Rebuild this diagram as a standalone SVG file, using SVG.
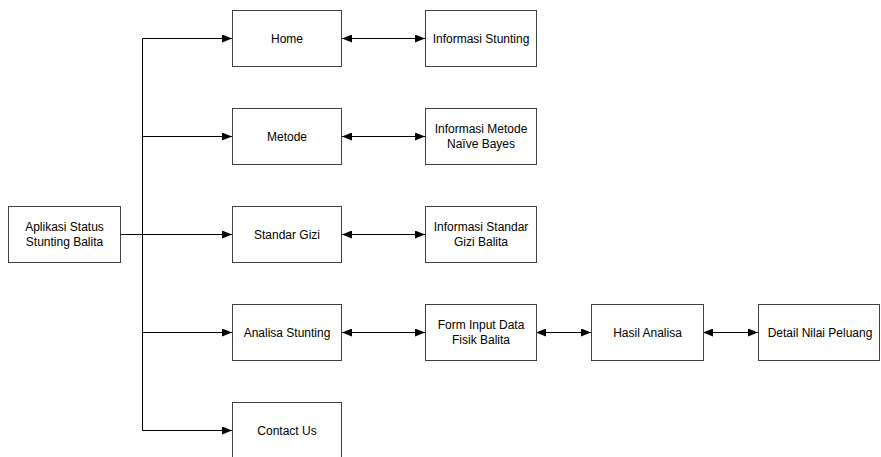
<svg xmlns="http://www.w3.org/2000/svg" width="881" height="457" viewBox="0 0 881 457">
  <style>
    .box { fill: #ffffff; stroke: #404040; stroke-width: 1; }
    .lbl { font-family: "Liberation Sans", Arial, sans-serif; font-size: 12px; fill: #000000; text-anchor: middle; }
    .wire { fill: none; stroke: #000000; stroke-width: 1; }
  </style>
  <defs>
    <marker id="tip" viewBox="0 0 10 8" refX="10" refY="4" markerWidth="10" markerHeight="8" markerUnits="userSpaceOnUse" orient="auto-start-reverse">
      <path d="M0,0 L10,4 L0,8 Z" fill="#000000"/>
    </marker>
  </defs>

  <g id="connectors">
    <!-- trunk and root link -->
    <path class="wire" d="M142.5,38.5 V430.5"/>
    <path class="wire" d="M120,234.5 H142.5" stroke-width="2"/>
    <!-- branches to menu items -->
    <path class="wire" d="M142.5,38.5 H232" marker-end="url(#tip)"/>
    <path class="wire" d="M142.5,136.5 H232" marker-end="url(#tip)"/>
    <path class="wire" d="M142.5,234.5 H232" marker-end="url(#tip)"/>
    <path class="wire" d="M142.5,332.5 H232" marker-end="url(#tip)"/>
    <path class="wire" d="M142.5,430.5 H232" marker-end="url(#tip)"/>
    <!-- two-way links -->
    <path class="wire" d="M342,38.5 H425" marker-start="url(#tip)" marker-end="url(#tip)"/>
    <path class="wire" d="M342,136.5 H425" marker-start="url(#tip)" marker-end="url(#tip)"/>
    <path class="wire" d="M342,234.5 H425" marker-start="url(#tip)" marker-end="url(#tip)"/>
    <path class="wire" d="M342,332.5 H425" marker-start="url(#tip)" marker-end="url(#tip)"/>
    <path class="wire" d="M536,332.5 H591" marker-start="url(#tip)" marker-end="url(#tip)"/>
    <path class="wire" d="M703,332.5 H758" marker-start="url(#tip)" marker-end="url(#tip)"/>
  </g>

  <g id="root">
    <rect class="box" x="8.5" y="206.5" width="112" height="56"/>
    <text class="lbl" x="64.5" y="231">Aplikasi Status</text>
    <text class="lbl" x="64.5" y="246">Stunting Balita</text>
  </g>

  <g id="home">
    <rect class="box" x="232.5" y="10.5" width="109" height="56"/>
    <text class="lbl" x="287" y="42.5">Home</text>
  </g>
  <g id="info-stunting">
    <rect class="box" x="425.5" y="10.5" width="111" height="56"/>
    <text class="lbl" x="481" y="42.5">Informasi Stunting</text>
  </g>

  <g id="metode">
    <rect class="box" x="232.5" y="108.5" width="109" height="56"/>
    <text class="lbl" x="287" y="140.5">Metode</text>
  </g>
  <g id="info-metode">
    <rect class="box" x="425.5" y="108.5" width="111" height="56"/>
    <text class="lbl" x="481" y="133">Informasi Metode</text>
    <text class="lbl" x="481" y="148">Naïve Bayes</text>
  </g>

  <g id="standar-gizi">
    <rect class="box" x="232.5" y="206.5" width="109" height="56"/>
    <text class="lbl" x="287" y="238.5">Standar Gizi</text>
  </g>
  <g id="info-standar">
    <rect class="box" x="425.5" y="206.5" width="111" height="56"/>
    <text class="lbl" x="481" y="231">Informasi Standar</text>
    <text class="lbl" x="481" y="246">Gizi Balita</text>
  </g>

  <g id="analisa">
    <rect class="box" x="232.5" y="304.5" width="109" height="56"/>
    <text class="lbl" x="287" y="336.5">Analisa Stunting</text>
  </g>
  <g id="form-input">
    <rect class="box" x="425.5" y="304.5" width="111" height="56"/>
    <text class="lbl" x="481" y="329">Form Input Data</text>
    <text class="lbl" x="481" y="344">Fisik Balita</text>
  </g>
  <g id="hasil">
    <rect class="box" x="591.5" y="304.5" width="112" height="56"/>
    <text class="lbl" x="647.5" y="336.5">Hasil Analisa</text>
  </g>
  <g id="detail">
    <rect class="box" x="758.5" y="304.5" width="121" height="56"/>
    <text class="lbl" x="820" y="336.5">Detail Nilai Peluang</text>
  </g>

  <g id="contact">
    <rect class="box" x="232.5" y="402.5" width="109" height="56"/>
    <text class="lbl" x="287" y="434.5">Contact Us</text>
  </g>
</svg>
